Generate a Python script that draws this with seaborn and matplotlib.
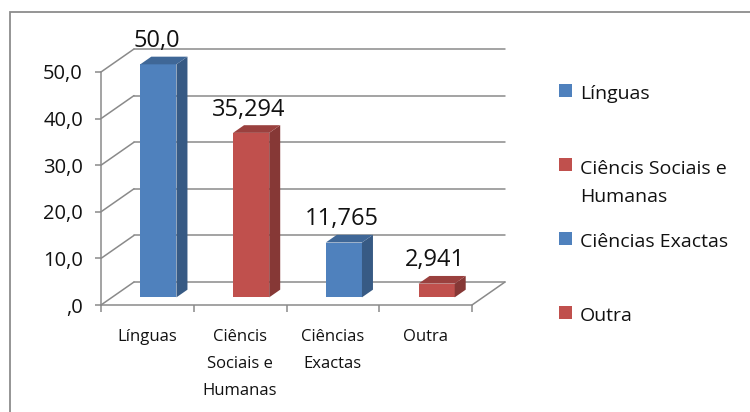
import matplotlib
matplotlib.use("Agg")
import matplotlib.pyplot as plt
import seaborn as sns
import numpy as np
from matplotlib.patches import Polygon, Rectangle
from matplotlib.colors import to_rgb

# ---------------- data ----------------
categories = ["Línguas", "Ciêncis Sociais e Humanas", "Ciências Exactas", "Outra"]
values = [50.0, 35.294, 11.765, 2.941]
value_labels = ["50,0", "35,294", "11,765", "2,941"]
tick_labels = ["Línguas", "Ciêncis\nSociais e\nHumanas", "Ciências\nExactas", "Outra"]
legend_labels = ["Línguas", "Ciêncis Sociais e\nHumanas", "Ciências Exactas", "Outra"]
y_ticks = [0, 10, 20, 30, 40, 50]
y_tick_labels = [",0", "10,0", "20,0", "30,0", "40,0", "50,0"]
bar_colors = ["#4F81BD", "#C0504D", "#4F81BD", "#C0504D"]

# ---------------- style ----------------
sns.set_theme(style="white")
plt.rcParams['font.family'] = ['Open Sans', 'DejaVu Sans']
GRID = "#8a8a8a"
TXT = "#111111"

W, H = 750, 412
fig = plt.figure(figsize=(W / 100, H / 100), dpi=100)
fig.patch.set_facecolor("white")

# front plane of the 3D box, in pixels
x0, x1, yb, yt = 101, 472, 305, 72
ax = fig.add_axes([x0 / W, (H - yb) / H, (x1 - x0) / W, (yb - yt) / H])
ax.set_facecolor("none")

sns.barplot(x=categories, y=values, hue=categories, palette=bar_colors,
            width=0.39, dodge=False, legend=False, saturation=1,
            ax=ax, zorder=3)
ax.set_xlim(-0.5, 3.5)
ax.set_ylim(0, 50)

px_x = (x1 - x0) / 4.0
px_y = (yb - yt) / 50.0
Dx, Dy = 33 / px_x, 23 / px_y       # depth of the box in data units
bx, by = Dx / 3, Dy / 3             # bar front offset and bar depth


def shade(c, f):
    r, g, b = to_rgb(c)
    return (r * f, g * f, b * f)


# back wall and left-wall gridlines
for v in y_ticks:
    ax.plot([-0.5 + Dx, 3.5 + Dx], [v + Dy, v + Dy], color=GRID, lw=1.1,
            clip_on=False, zorder=1)
    ax.plot([-0.5, -0.5 + Dx], [v, v + Dy], color=GRID, lw=1.1,
            clip_on=False, zorder=1)
# floor right edge
ax.plot([3.5, 3.5 + Dx], [0, Dy], color=GRID, lw=1.1, clip_on=False, zorder=1)

# 3D bars built from seaborn's bars
bars = sorted(ax.patches, key=lambda p: p.get_x())
for p, col in zip(bars, bar_colors):
    x, w, h = p.get_x(), p.get_width(), p.get_height()
    p.set_x(x + bx)
    p.set_y(by)
    p.set_clip_on(False)
    p.set_edgecolor("none")
    xl, xr = x + bx, x + bx + w
    ybot, ytop = by, by + h
    side = Polygon([(xr, ybot), (xr, ytop), (xr + bx, ytop + by), (xr + bx, ybot + by)],
                   closed=True, fc=shade(col, 0.70), ec="none", clip_on=False, zorder=3)
    top = Polygon([(xl, ytop), (xr, ytop), (xr + bx, ytop + by), (xl + bx, ytop + by)],
                  closed=True, fc=shade(col, 0.80), ec="none", clip_on=False, zorder=3)
    ax.add_patch(side)
    ax.add_patch(top)

# value labels
for i, (v, lab) in enumerate(zip(values, value_labels)):
    ax.annotate(lab, xy=(i, v), xytext=(9, 25), textcoords="offset pixels",
                ha="center", va="baseline", fontsize=17, color=TXT,
                annotation_clip=False, zorder=5)

# axes / ticks
for s in ["top", "right"]:
    ax.spines[s].set_visible(False)
for s in ["left", "bottom"]:
    ax.spines[s].set_color(GRID)
    ax.spines[s].set_linewidth(1.1)
    ax.spines[s].set_zorder(1)

ax.set_yticks(y_ticks)
ax.set_yticklabels(y_tick_labels)
ax.tick_params(axis="y", length=4, width=1.1, color=GRID, direction="out",
               left=True, pad=9, labelsize=14.5, labelcolor=TXT)

ax.set_xticks(range(len(categories)))
ax.set_xticklabels(tick_labels, linespacing=1.95)
ax.set_xticks([-0.5, 0.5, 1.5, 2.5, 3.5], minor=True)
ax.tick_params(axis="x", which="major", length=0, pad=17, labelsize=12,
               labelcolor=TXT)
ax.tick_params(axis="x", which="minor", length=5, width=1.1, color=GRID,
               direction="out", bottom=True)
ax.set_xlabel("")
ax.set_ylabel("")
ax.grid(False)

# legend (manual, Excel-like); baselines of first lines in pixels
leg_sq = [90, 164, 238, 312]
leg_base = [99.3, 171.7, 246.7, 320.7]
LINE_PX = 30
for yc, yb_, col, lab in zip(leg_sq, leg_base, bar_colors, legend_labels):
    fig.add_artist(Rectangle((559 / W, 1 - (yc + 6.5) / H), 13 / W, 13 / H,
                             transform=fig.transFigure, fc=col, ec="none"))
    nlines = lab.count("\n") + 1
    y_last = yb_ + (nlines - 1) * LINE_PX   # matplotlib anchors last baseline
    fig.text(580 / W, 1 - y_last / H, lab, ha="left", va="baseline",
             fontsize=14, color=TXT, linespacing=1.72)

# outer chart frame
fig.add_artist(Rectangle((10 / W, -0.2), 2.0, (H - 12) / H + 0.2,
                         transform=fig.transFigure, fill=False,
                         ec="#8c8c8c", lw=1.3))

fig.savefig("out.png", dpi=100)
